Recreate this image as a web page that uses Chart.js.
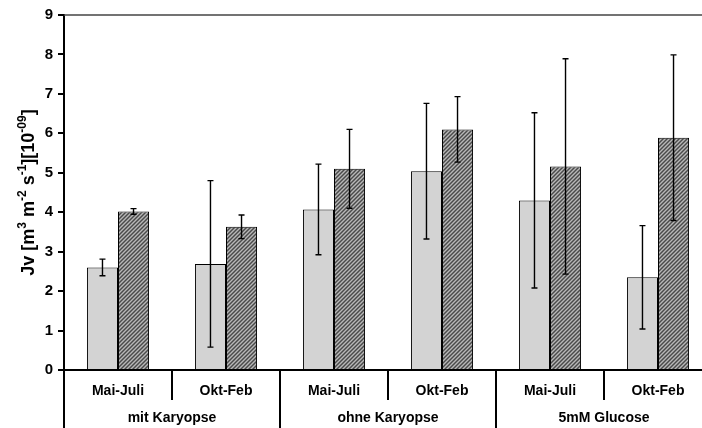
<!DOCTYPE html>
<html>
<head>
<meta charset="utf-8">
<script src="https://cdn.jsdelivr.net/npm/chart.js@4/dist/chart.umd.min.js"></script>
<style>
  html, body { margin: 0; padding: 0; background: #fff; overflow: hidden; }
  #wrap { width: 712px; height: 428px; }
</style>
</head>
<body>
<div id="wrap"><canvas id="jv" width="712" height="428"></canvas></div>
<script>
// Jv flux per period and treatment, two series with std deviations
var periods = ['Mai-Juli', 'Okt-Feb', 'Mai-Juli', 'Okt-Feb', 'Mai-Juli', 'Okt-Feb'];
var groups = ['mit Karyopse', 'ohne Karyopse', '5mM Glucose'];
var greyValues = [2.60, 2.69, 4.07, 5.04, 4.30, 2.35];
var greyErrors = [0.21, 2.11, 1.15, 1.72, 2.22, 1.31];
var hatchValues = [4.02, 3.63, 5.10, 6.10, 5.16, 5.89];
var hatchErrors = [0.07, 0.30, 1.00, 0.83, 2.73, 2.10];
var yTicks = [0, 1, 2, 3, 4, 5, 6, 7, 8, 9];

var FONT = "'Liberation Sans', Arial, sans-serif";

// diagonal stripes for the second series
function makeHatch() {
    var c = document.createElement('canvas');
    c.width = 4; c.height = 4;
    var g = c.getContext('2d');
    g.fillStyle = '#4a4a4a';
    g.fillRect(0, 0, 4, 4);
    g.strokeStyle = '#b8b8b8';
    g.lineWidth = 1.4;
    g.beginPath();
    g.moveTo(-1, 1); g.lineTo(1, -1);
    g.moveTo(0, 4); g.lineTo(4, 0);
    g.moveTo(3, 5); g.lineTo(5, 3);
    g.stroke();
    return g.createPattern(c, 'repeat');
}

var errorBars = {
    id: 'errorBars',
    afterDatasetsDraw: function (chart) {
        var ctx = chart.ctx;
        var y = chart.scales.y;
        var errs = [greyErrors, hatchErrors];
        ctx.save();
        ctx.strokeStyle = '#000';
        ctx.lineWidth = 1.4;
        chart.data.datasets.forEach(function (ds, d) {
            chart.getDatasetMeta(d).data.forEach(function (bar, i) {
                var v = ds.data[i], e = errs[d][i];
                var top = y.getPixelForValue(v + e);
                var bot = y.getPixelForValue(v - e);
                ctx.beginPath();
                ctx.moveTo(bar.x, top); ctx.lineTo(bar.x, bot);
                ctx.moveTo(bar.x - 3, top); ctx.lineTo(bar.x + 3, top);
                ctx.moveTo(bar.x - 3, bot); ctx.lineTo(bar.x + 3, bot);
                ctx.stroke();
            });
        });
        ctx.restore();
    }
};

var frame = {
    id: 'frame',
    afterDraw: function (chart) {
        var ctx = chart.ctx;
        var a = chart.chartArea;
        var x = chart.scales.x;
        var n = periods.length;
        var cw = (x.right - x.left) / n;
        ctx.save();
        // top border
        ctx.strokeStyle = '#444';
        ctx.lineWidth = 1.5;
        ctx.beginPath();
        ctx.moveTo(a.left, a.top); ctx.lineTo(a.right, a.top);
        ctx.stroke();
        // x axis line
        ctx.strokeStyle = '#000';
        ctx.lineWidth = 2;
        ctx.beginPath();
        ctx.moveTo(a.left - 6, a.bottom); ctx.lineTo(a.right, a.bottom);
        ctx.stroke();
        // category separators, long ones between groups
        for (var i = 0; i <= n; i++) {
            var bx = x.left + i * cw;
            ctx.beginPath();
            ctx.moveTo(bx, a.bottom);
            ctx.lineTo(bx, i % 2 === 0 ? chart.height : a.bottom + 30);
            ctx.stroke();
        }
        ctx.fillStyle = '#000';
        ctx.textAlign = 'center';
        ctx.textBaseline = 'middle';
        ctx.font = 'bold 14px ' + FONT;
        periods.forEach(function (p, i) {
            ctx.fillText(p, x.getPixelForValue(i), a.bottom + 21);
        });
        groups.forEach(function (g, k) {
            var cx = (x.getPixelForValue(2 * k) + x.getPixelForValue(2 * k + 1)) / 2;
            ctx.fillText(g, cx, a.bottom + 48);
        });
        // y axis title with superscripts
        var parts = [['Jv [m', 0], ['3', 1], [' m', 0], ['-2', 1], [' s', 0], ['-1', 1], ['][10', 0], ['-09', 1], [']', 0]];
        var big = 'bold 18px ' + FONT, small = 'bold 12px ' + FONT;
        var total = 0;
        parts.forEach(function (p) {
            ctx.font = p[1] ? small : big;
            total += ctx.measureText(p[0]).width;
        });
        ctx.translate(34, (a.top + a.bottom) / 2);
        ctx.rotate(-Math.PI / 2);
        ctx.textAlign = 'left';
        ctx.textBaseline = 'alphabetic';
        var px = -total / 2;
        parts.forEach(function (p) {
            ctx.font = p[1] ? small : big;
            ctx.fillText(p[0], px, p[1] ? -8 : 0);
            px += ctx.measureText(p[0]).width;
        });
        ctx.restore();
    }
};

new Chart(document.getElementById('jv').getContext('2d'), {
    type: 'bar',
    data: {
        labels: periods,
        datasets: [{
            data: greyValues,
            backgroundColor: '#d3d3d3',
            borderColor: '#000',
            borderWidth: 1,
            barPercentage: 1,
            categoryPercentage: 0.575
        }, {
            data: hatchValues,
            backgroundColor: makeHatch(),
            borderColor: '#000',
            borderWidth: 1,
            barPercentage: 1,
            categoryPercentage: 0.575
        }]
    },
    options: {
        responsive: false,
        animation: false,
        devicePixelRatio: 1,
        layout: { padding: { top: 15, left: 0, right: 0, bottom: 0 } },
        plugins: { legend: { display: false }, tooltip: { enabled: false } },
        scales: {
            x: {
                grid: { display: false },
                border: { display: false },
                ticks: { display: false },
                afterFit: function (s) { s.height = 58; }
            },
            y: {
                min: 0,
                max: 9,
                afterBuildTicks: function (s) { s.ticks = yTicks.map(function (v) { return { value: v }; }); },
                afterFit: function (s) { s.width = 64; },
                grid: { drawOnChartArea: false, drawTicks: true, tickLength: 6, color: '#000', lineWidth: 2 },
                border: { display: true, color: '#000', width: 2 },
                ticks: { color: '#000', padding: 5, font: { family: FONT, size: 15, weight: 'bold' } }
            }
        }
    },
    plugins: [errorBars, frame]
});
</script>
</body>
</html>
